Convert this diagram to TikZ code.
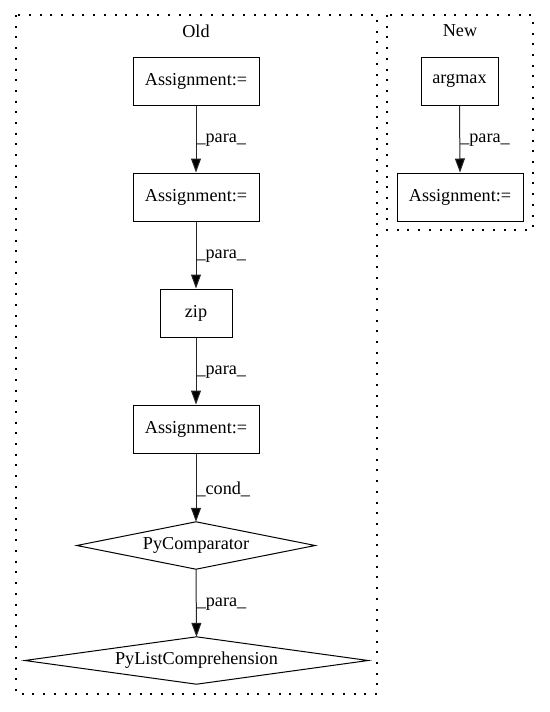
\documentclass[tikz,border=0pt]{standalone}
\usepackage{fontspec}
\setmainfont{Liberation Serif}
\usetikzlibrary{arrows.meta}
\begin{document}
\begin{tikzpicture}[x=1pt,y=-1pt,
  every node/.style={font=\fontsize{18.2}{22}\selectfont},
  box/.style={draw, line width=1pt, minimum height=48pt, inner sep=0pt},
  dia/.style={minimum height=47pt, inner sep=0pt},
  diaborder/.style={line width=1pt},
  cluster/.style={line width=1.4pt, dash pattern=on 2pt off 8.7pt},
  edge/.style={line width=1pt, draw=black!85, -{Triangle[length=14pt,width=10pt,fill=black]}},
  elabel/.style={anchor=west, inner sep=0pt}
]
\useasboundingbox (0,0) rectangle (549,712);
\fill[white] (0,0) rectangle (549,712);
% clusters
\draw[cluster] (16,15) rectangle (377,694);
\draw[cluster] (387,15) rectangle (533,230);
\node (old) at (196,31) {Old};
\node (new) at (460,31) {New};
% Old nodes
\node[box, minimum width=126pt] (a1) at (196,81) {Assignment:=};
\node[box, minimum width=126pt] (a2) at (196,197) {Assignment:=};
\node[box, minimum width=72pt] (zip) at (196,313) {zip};
\node[box, minimum width=126pt] (a3) at (196,429) {Assignment:=};
\node[dia, minimum width=238pt] (pc) at (196,545.5) {PyComparator};
\draw[diaborder] (pc.west) -- (pc.north) -- (pc.east) -- (pc.south) -- cycle;
\node[dia, minimum width=343pt] (plc) at (196.5,660.5) {PyListComprehension};
\draw[diaborder] (plc.west) -- (plc.north) -- (plc.east) -- (plc.south) -- cycle;
% New nodes
\node[box, minimum width=77pt] (am) at (459.5,81) {argmax};
\node[box, minimum width=126pt] (a4) at (460,197) {Assignment:=};
% edges
\draw[edge] (a1.south) -- node[pos=0.52, elabel] {\_para\_} (a2.north);
\draw[edge] (a2.south) -- node[pos=0.52, elabel] {\_para\_} (zip.north);
\draw[edge] (zip.south) -- node[pos=0.52, elabel] {\_para\_} (a3.north);
\draw[edge] (a3.south) -- node[pos=0.52, elabel] {\_cond\_} (pc.north);
\draw[edge] (pc.south) -- node[pos=0.52, elabel] {\_para\_} (plc.north);
\draw[edge] (am.south) -- node[pos=0.52, elabel] {\_para\_} (a4.north);
\end{tikzpicture}
\end{document}
